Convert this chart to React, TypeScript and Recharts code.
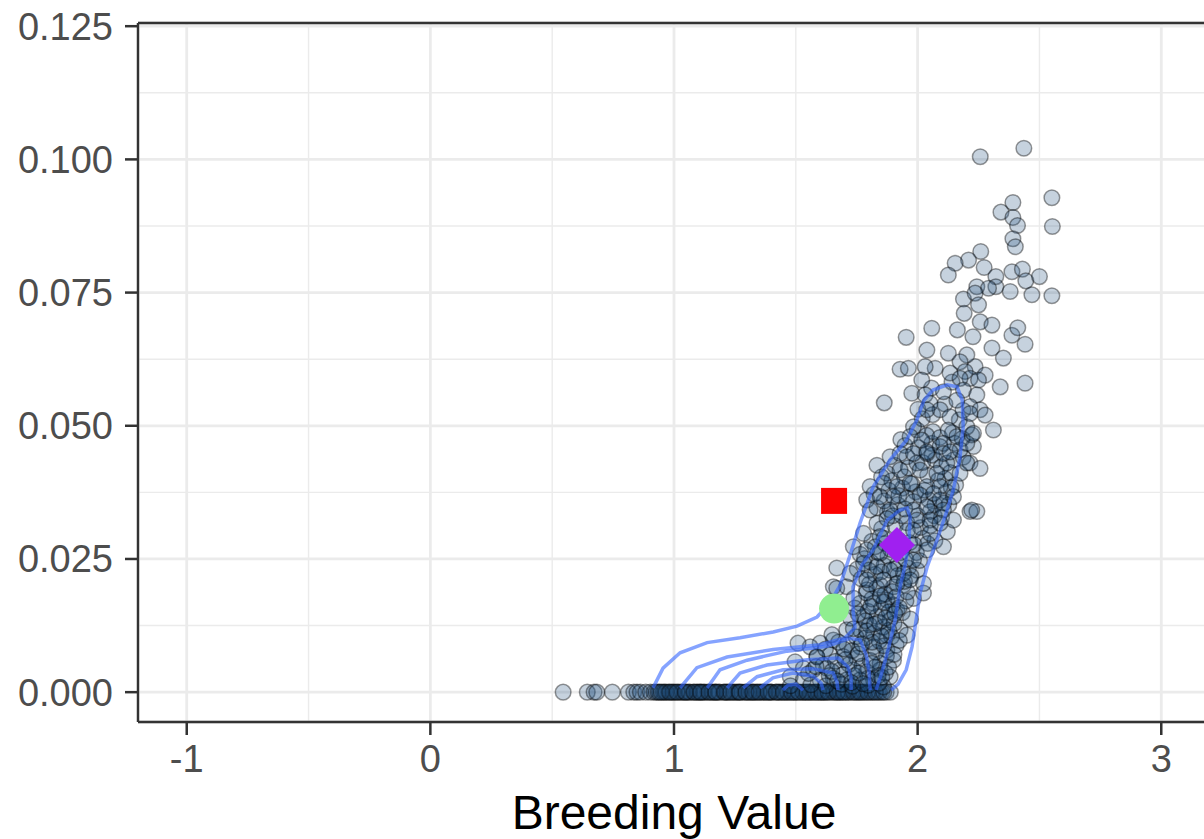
import React from 'react';
import {
  ScatterChart,
  Scatter,
  XAxis,
  YAxis,
  CartesianGrid,
  ReferenceLine,
} from 'recharts';

// x ticks and y ticks (major), minor grid in between
const xTicks = [-1, 0, 1, 2, 3];
const yTicks = [0, 0.025, 0.05, 0.075, 0.1, 0.125];
const xMinor = [-0.5, 0.5, 1.5, 2.5];
const yMinor = [0.0125, 0.0375, 0.0625, 0.0875, 0.1125];

// individuals sitting on zero
const zeroRowX = [
  0.545, 0.644, 0.672, 0.683, 0.747, 0.813, 0.835, 0.848, 0.862, 0.884, 0.903, 0.918, 0.927,
  0.941, 0.956, 0.962, 0.978, 0.991, 1.004, 1.018, 1.027, 1.043, 1.052, 1.066, 1.079, 1.091,
  1.104, 1.113, 1.127, 1.138, 1.152, 1.166, 1.174, 1.188, 1.203, 1.214, 1.226, 1.241, 1.255,
  1.262, 1.279, 1.291, 1.303, 1.318, 1.327, 1.342, 1.356, 1.364, 1.378, 1.392, 1.401, 1.417,
  1.428, 1.442, 1.455, 1.463, 1.477, 1.491, 1.502, 1.516, 1.528, 1.539, 1.553, 1.566, 1.574,
  1.588, 1.602, 1.613, 1.626, 1.641, 1.652, 1.667, 1.678, 1.691, 1.705, 1.717, 1.729, 1.744,
  1.758, 1.771, 1.786, 1.802, 1.818, 1.836, 1.853, 1.871, 1.888,
];
const zeroRowX2 = [
  0.935, 0.968, 0.997, 1.034, 1.061, 1.097, 1.121, 1.158, 1.183, 1.219, 1.247, 1.271, 1.309,
  1.336, 1.371, 1.398, 1.434, 1.468, 1.496, 1.531, 1.559, 1.594, 1.619, 1.658, 1.684, 1.713,
  1.751, 1.779, 1.812, 1.843,
];
const zeroRowX3 = [
  0.948, 0.983, 1.012, 1.047, 1.083, 1.109, 1.144, 1.171, 1.208, 1.233, 1.268, 1.296, 1.323,
  1.349, 1.386, 1.421, 1.449, 1.483, 1.511, 1.546, 1.581, 1.607, 1.633, 1.671, 1.697, 1.737,
  1.764, 1.795, 1.827, 1.861,
];

// lower part of the ridge [x, y]
const lowPoints = [
  [1.654, 0.0198], [1.709, 0.0198], [1.791, 0.0192], [1.846, 0.0201], [1.901, 0.0198],
  [1.942, 0.0201], [1.983, 0.0176], [2.024, 0.0186], [1.764, 0.0167], [1.819, 0.0167],
  [1.874, 0.0173], [1.915, 0.0154], [1.778, 0.0142], [1.833, 0.0142], [1.887, 0.0136],
  [1.928, 0.0117], [1.956, 0.0107], [1.709, 0.0117], [1.764, 0.0117], [1.819, 0.0111],
  [1.874, 0.0107], [1.654, 0.0098], [1.6, 0.0092], [1.559, 0.0085], [1.709, 0.0089],
  [1.764, 0.0085], [1.819, 0.0085], [1.874, 0.0079], [1.901, 0.006], [1.586, 0.0067],
  [1.641, 0.007], [1.695, 0.0067], [1.75, 0.0064], [1.805, 0.006], [1.846, 0.0054],
  [1.497, 0.0057], [1.531, 0.0045], [1.572, 0.0042], [1.627, 0.0045], [1.682, 0.0042],
  [1.736, 0.0042], [1.791, 0.0038], [1.846, 0.0042], [1.887, 0.0029], [1.477, 0.0029],
  [1.531, 0.0023], [1.6, 0.0023], [1.654, 0.0026], [1.709, 0.0023], [1.764, 0.0023],
  [1.819, 0.0023], [1.86, 0.001], [1.668, 0.0195], [1.509, 0.0092], [1.587, 0.0066],
  [1.478, 0.0012], [1.562, 0.0014], [1.623, 0.0012], [1.688, 0.0015], [1.733, 0.0011],
  [1.797, 0.0013], [1.842, 0.0017],
];

// dense core of the ridge [x, y]
const corePoints = [
  [1.552, 0.0035], [1.612, 0.0051], [1.663, 0.0058], [1.718, 0.0052], [1.772, 0.0049],
  [1.825, 0.0047], [1.868, 0.0036], [1.742, 0.0031], [1.795, 0.0026], [1.838, 0.0031],
  [1.694, 0.0033], [1.637, 0.0031], [1.622, 0.0081], [1.676, 0.0094], [1.731, 0.0078],
  [1.786, 0.0102], [1.842, 0.0096], [1.893, 0.0104], [1.858, 0.0122], [1.802, 0.0126],
  [1.747, 0.0104], [1.912, 0.0088], [1.828, 0.0075], [1.872, 0.0068], [1.742, 0.0158],
  [1.796, 0.0152], [1.851, 0.0157], [1.898, 0.0164], [1.937, 0.0149], [1.812, 0.0175],
  [1.866, 0.0184], [1.952, 0.0171], [1.724, 0.0139], [1.843, 0.0131], [1.903, 0.0129],
  [1.786, 0.0134], [1.752, 0.0231], [1.808, 0.0244], [1.862, 0.0238], [1.918, 0.0241],
  [1.962, 0.0233], [1.998, 0.0229], [1.826, 0.0221], [1.878, 0.0255], [1.931, 0.0262],
  [1.995, 0.0262], [1.768, 0.0213], [1.952, 0.0249], [1.895, 0.0189], [1.832, 0.0196],
  [1.812, 0.0283], [1.866, 0.0279], [1.921, 0.0286], [1.968, 0.0281], [2.022, 0.0289],
  [2.071, 0.0284], [1.852, 0.0307], [1.908, 0.0312], [1.956, 0.0318], [2.012, 0.0309],
  [2.068, 0.0331], [1.935, 0.0331], [1.876, 0.0338], [2.122, 0.0301], [1.882, 0.0379],
  [1.938, 0.0383], [1.992, 0.0376], [2.046, 0.0361], [2.118, 0.0376], [1.852, 0.0404],
  [1.946, 0.0404], [2.041, 0.0407], [2.112, 0.0401], [2.156, 0.0389], [1.983, 0.0358],
  [2.071, 0.0352], [2.128, 0.0352], [1.918, 0.0352], [1.948, 0.0463], [2.003, 0.0459],
  [2.058, 0.0467], [2.152, 0.0467], [1.998, 0.0492], [2.063, 0.0489], [2.171, 0.0511],
  [2.072, 0.0436], [2.148, 0.0436], [2.019, 0.0513],
];
const coreExtra = [
  [1.583, 0.0048], [1.648, 0.0039], [1.703, 0.0061], [1.757, 0.0036], [1.812, 0.0054],
  [1.853, 0.0028], [1.881, 0.0047], [1.728, 0.0018], [1.776, 0.0016], [1.671, 0.0021],
  [1.648, 0.0108], [1.697, 0.0081], [1.757, 0.0072], [1.813, 0.0094], [1.862, 0.0087],
  [1.903, 0.0071], [1.736, 0.0119], [1.791, 0.0115], [1.882, 0.0116], [1.925, 0.0097],
  [1.851, 0.0106], [1.771, 0.0091], [1.756, 0.0147], [1.808, 0.0161], [1.861, 0.0169],
  [1.912, 0.0179], [1.958, 0.0188], [1.789, 0.0186], [1.847, 0.0181], [1.883, 0.0151],
  [1.925, 0.0159], [1.971, 0.0137], [1.823, 0.0128], [1.868, 0.0139], [1.738, 0.0176],
  [1.802, 0.0203], [1.906, 0.0147], [1.782, 0.0251], [1.837, 0.0262], [1.889, 0.0268],
  [1.942, 0.0274], [1.986, 0.0277], [2.041, 0.0279], [1.799, 0.0229], [1.851, 0.0226],
  [1.904, 0.0231], [1.973, 0.0218], [2.008, 0.0247], [1.862, 0.0289], [1.918, 0.0219],
  [1.826, 0.0273], [1.764, 0.0259], [1.946, 0.0208], [1.833, 0.0346], [1.897, 0.0331],
  [1.947, 0.0344], [2.001, 0.0331], [2.052, 0.0339], [2.098, 0.0328], [1.862, 0.0359],
  [1.923, 0.0369], [1.976, 0.0391], [2.029, 0.0379], [2.084, 0.0397], [2.138, 0.0384],
  [1.821, 0.0372], [1.894, 0.0397], [2.052, 0.0313], [1.958, 0.0303], [2.107, 0.0355],
  [1.906, 0.0426], [1.962, 0.0421], [2.021, 0.0431], [2.059, 0.0445], [2.097, 0.0423],
  [2.134, 0.0412], [2.187, 0.0441], [1.931, 0.0474], [2.037, 0.0482], [2.091, 0.0478],
  [2.143, 0.0487], [2.183, 0.0476], [2.001, 0.0531], [2.062, 0.0521], [2.112, 0.0541],
  [2.186, 0.0529], [2.057, 0.0571], [2.141, 0.0582], [2.236, 0.0611],
];

// middle of the ridge [x, y]
const midPoints = [
  [1.833, 0.0426], [1.887, 0.0442], [1.956, 0.0442], [1.997, 0.043], [2.038, 0.0448],
  [2.092, 0.0461], [2.12, 0.043], [2.174, 0.0455], [2.215, 0.043], [2.229, 0.0461],
  [1.874, 0.0411], [1.928, 0.0417], [2.01, 0.0417], [2.079, 0.0411], [2.174, 0.0411],
  [1.805, 0.0386], [1.86, 0.0392], [1.915, 0.0386], [1.969, 0.0392], [2.038, 0.0386],
  [2.092, 0.0386], [1.791, 0.0361], [1.846, 0.0367], [1.901, 0.0367], [1.956, 0.0364],
  [2.01, 0.037], [2.065, 0.0373], [2.092, 0.0361], [2.147, 0.0367], [1.805, 0.0342],
  [1.887, 0.0342], [1.983, 0.0342], [2.038, 0.0348], [2.106, 0.0342], [2.147, 0.0323],
  [2.215, 0.0339], [2.243, 0.0339], [2.222, 0.0342], [1.833, 0.0317], [1.874, 0.0326],
  [1.997, 0.0323], [2.051, 0.0323], [2.092, 0.0317], [1.778, 0.0298], [1.846, 0.0292],
  [1.983, 0.0304], [2.051, 0.0298], [2.106, 0.0273], [2.038, 0.0267], [1.736, 0.0273],
  [1.791, 0.0267], [1.846, 0.0261], [1.983, 0.0248], [1.778, 0.0242], [1.833, 0.0236],
  [1.887, 0.0229], [1.942, 0.0223], [1.668, 0.0233], [1.723, 0.0223], [1.791, 0.0211],
  [1.86, 0.0211], [1.915, 0.0204], [1.969, 0.0211], [2.024, 0.0204], [2.202, 0.043],
  [2.256, 0.042],
];

// upper part of the ridge [x, y]
const highPoints = [
  [2.257, 0.1005], [2.436, 0.1021], [2.551, 0.0928], [2.553, 0.0874], [2.391, 0.0919],
  [2.342, 0.0901], [2.391, 0.0891], [2.41, 0.0876], [2.391, 0.0851], [2.401, 0.0836],
  [2.259, 0.0827], [2.209, 0.0811], [2.154, 0.0805], [2.126, 0.0783], [2.273, 0.0797],
  [2.321, 0.078], [2.387, 0.0789], [2.43, 0.0794], [2.444, 0.0772], [2.5, 0.078],
  [2.321, 0.0761], [2.243, 0.0761], [2.291, 0.0758], [2.38, 0.0752], [2.469, 0.0746],
  [2.551, 0.0744], [2.188, 0.0738], [2.236, 0.0749], [2.25, 0.0727], [2.191, 0.0711],
  [2.257, 0.0695], [2.305, 0.0689], [2.163, 0.068], [2.227, 0.0667], [2.058, 0.0683],
  [1.953, 0.0666], [2.387, 0.067], [2.411, 0.0684], [2.441, 0.0653], [2.126, 0.0636],
  [2.202, 0.0633], [2.305, 0.0646], [2.352, 0.0627], [2.174, 0.062], [2.072, 0.0608],
  [2.031, 0.0611], [2.133, 0.0599], [2.195, 0.0602], [2.215, 0.0589], [2.277, 0.0595],
  [2.017, 0.0586], [2.25, 0.0586], [2.174, 0.0589], [2.339, 0.0573], [2.441, 0.058],
  [1.976, 0.0561], [2.031, 0.0558], [2.106, 0.0564], [2.188, 0.0567], [2.243, 0.0558],
  [2.051, 0.0542], [2.161, 0.0548], [2.215, 0.0536], [2.092, 0.053], [2.133, 0.0517],
  [2.256, 0.053], [2.277, 0.052], [2.038, 0.053], [1.983, 0.0498], [2.126, 0.0492],
  [2.106, 0.0467], [2.222, 0.0483], [2.311, 0.0492], [2.202, 0.0498], [1.969, 0.048],
  [2.017, 0.0473], [2.161, 0.048], [2.202, 0.0467], [1.928, 0.0448], [1.983, 0.0448],
  [2.038, 0.0451], [2.106, 0.0448], [2.229, 0.0486], [2.133, 0.0451], [1.928, 0.0606],
  [1.962, 0.0608], [2.038, 0.0642], [1.863, 0.0543], [2.215, 0.0523],
];

// 2d density contours, outermost first [x, y]
const contour1 = [
  [0.914, 0.0008], [0.955, 0.0045], [1.025, 0.0074], [1.136, 0.0093], [1.271, 0.0102],
  [1.407, 0.0113], [1.505, 0.0124], [1.587, 0.0141], [1.641, 0.0168], [1.682, 0.0201],
  [1.723, 0.0258], [1.764, 0.0318], [1.817, 0.0385], [1.887, 0.0436], [1.956, 0.0474],
  [1.997, 0.0511], [2.026, 0.0548], [2.063, 0.0567], [2.121, 0.0577], [2.162, 0.0573],
  [2.183, 0.0548], [2.187, 0.0498], [2.174, 0.0441], [2.146, 0.0379], [2.117, 0.0336],
  [2.08, 0.0286], [2.039, 0.0235], [2.01, 0.0186], [1.994, 0.0136], [1.977, 0.0085],
  [1.953, 0.0042], [1.92, 0.0015], [1.891, 0.0004],
];
const contour2 = [
  [1.025, 0.0008], [1.094, 0.0046], [1.218, 0.0066], [1.407, 0.008], [1.599, 0.0089],
  [1.702, 0.0102], [1.743, 0.0121], [1.735, 0.0154], [1.735, 0.0198], [1.772, 0.0239],
  [1.817, 0.0267], [1.875, 0.0323], [1.928, 0.0342], [1.957, 0.0346], [1.969, 0.0329],
  [1.965, 0.0286], [1.949, 0.0239], [1.928, 0.0198], [1.908, 0.0136], [1.879, 0.008],
  [1.85, 0.0032], [1.829, 0.0004],
];
const contour3 = [
  [1.136, 0.0008], [1.189, 0.0042], [1.3, 0.006], [1.464, 0.0077], [1.628, 0.0086],
  [1.723, 0.0101], [1.764, 0.0098], [1.789, 0.007], [1.801, 0.0038], [1.805, 0.0004],
];
const contour4 = [
  [1.218, 0.0008], [1.271, 0.0036], [1.382, 0.0051], [1.547, 0.0061], [1.674, 0.0064],
  [1.715, 0.0047], [1.727, 0.0027], [1.727, 0.0004],
];
const contour5 = [
  [1.284, 0.0008], [1.341, 0.0029], [1.448, 0.0042], [1.571, 0.0044], [1.653, 0.0036],
  [1.669, 0.0019], [1.673, 0.0004],
];
const contour6 = [
  [1.353, 0.0008], [1.406, 0.0027], [1.488, 0.0036], [1.571, 0.003], [1.604, 0.0017],
  [1.612, 0.0004],
];
const contour7 = [[1.447, 0.0004], [1.468, 0.0013], [1.501, 0.0015], [1.53, 0.0004]];

// highlighted individuals
const squarePoint = [[1.657, 0.0359]];
const diamondPoint = [[1.915, 0.0276]];
const circlePoint = [[1.657, 0.0157]];

const toXY = (arr: number[][]) => arr.map(([x, y]) => ({ x, y }));

const FONT = '"Liberation Sans", Arial, Helvetica, sans-serif';
const LINE = '#3366FF';

const Dot = (p: any) => (
  <circle
    cx={p.cx}
    cy={p.cy}
    r={7.8}
    fill="#1B4A7A"
    fillOpacity={0.25}
    stroke="#000"
    strokeOpacity={0.4}
    strokeWidth={1.5}
  />
);
const NoShape = () => <g />;
const Square = (p: any) => <rect x={p.cx - 13} y={p.cy - 13} width={26} height={26} fill="#FF0000" />;
const Diamond = (p: any) => (
  <polygon
    points={`${p.cx},${p.cy - 18} ${p.cx + 18},${p.cy} ${p.cx},${p.cy + 18} ${p.cx - 18},${p.cy}`}
    fill="#A020F0"
  />
);
const BigCircle = (p: any) => <circle cx={p.cx} cy={p.cy} r={15} fill="#90EE90" />;

const App: React.FC = () => {
  const allPoints = [
    ...zeroRowX.map((x) => ({ x, y: 0 })),
    ...zeroRowX2.map((x) => ({ x, y: 0 })),
    ...zeroRowX3.map((x) => ({ x, y: 0 })),
    ...toXY(lowPoints),
    ...toXY(corePoints),
    ...toXY(coreExtra),
    ...toXY(midPoints),
    ...toXY(highPoints),
  ];
  const contours = [contour1, contour2, contour3, contour4, contour5, contour6, contour7];

  return (
    <div
      style={{
        position: 'fixed',
        left: 0,
        top: 0,
        width: 1204,
        height: 839,
        overflow: 'hidden',
        background: '#fff',
      }}
    >
      <ScatterChart
        width={1220}
        height={839}
        margin={{ top: 23, right: 10, bottom: 0, left: 0 }}
        style={{ fontFamily: FONT }}
      >
        <CartesianGrid stroke="#EBEBEB" strokeWidth={2.8} />
        {xMinor.map((v) => (
          <ReferenceLine key={`xm${v}`} x={v} stroke="#EBEBEB" strokeWidth={1.4} />
        ))}
        {yMinor.map((v) => (
          <ReferenceLine key={`ym${v}`} y={v} stroke="#EBEBEB" strokeWidth={1.4} />
        ))}
        <ReferenceLine y={0.1256} stroke="#333333" strokeWidth={2.4} />
        <XAxis
          type="number"
          dataKey="x"
          domain={[-1.2, 3.2]}
          ticks={xTicks}
          height={117}
          tickSize={13}
          tickMargin={10}
          tick={{ fill: '#4D4D4D', fontSize: 38, fontFamily: FONT }}
          tickLine={{ stroke: '#333333', strokeWidth: 2.5 }}
          axisLine={{ stroke: '#333333', strokeWidth: 2.4 }}
          label={{
            value: 'Breeding Value',
            position: 'insideBottom',
            offset: 10,
            fill: '#000',
            fontSize: 48,
            fontFamily: FONT,
          }}
        />
        <YAxis
          type="number"
          dataKey="y"
          domain={[-0.0056, 0.1256]}
          ticks={yTicks}
          width={138}
          tickSize={13}
          tickMargin={12}
          tickFormatter={(v: number) => v.toFixed(3)}
          tick={{ fill: '#4D4D4D', fontSize: 38, fontFamily: FONT }}
          tickLine={{ stroke: '#333333', strokeWidth: 2.5 }}
          axisLine={{ stroke: '#333333', strokeWidth: 2.4 }}
        />
        <Scatter data={allPoints} shape={Dot} isAnimationActive={false} />
        {contours.map((c, i) => (
          <Scatter
            key={`c${i}`}
            data={toXY(c)}
            shape={NoShape}
            line={{ stroke: LINE, strokeWidth: 3.5, strokeOpacity: 0.6 }}
            lineType="joint"
            stroke={LINE}
            strokeWidth={3.5}
            strokeOpacity={0.6}
            isAnimationActive={false}
          />
        ))}
        <Scatter data={toXY(squarePoint)} shape={Square} isAnimationActive={false} />
        <Scatter data={toXY(diamondPoint)} shape={Diamond} isAnimationActive={false} />
        <Scatter data={toXY(circlePoint)} shape={BigCircle} isAnimationActive={false} />
      </ScatterChart>
    </div>
  );
};

export default App;
